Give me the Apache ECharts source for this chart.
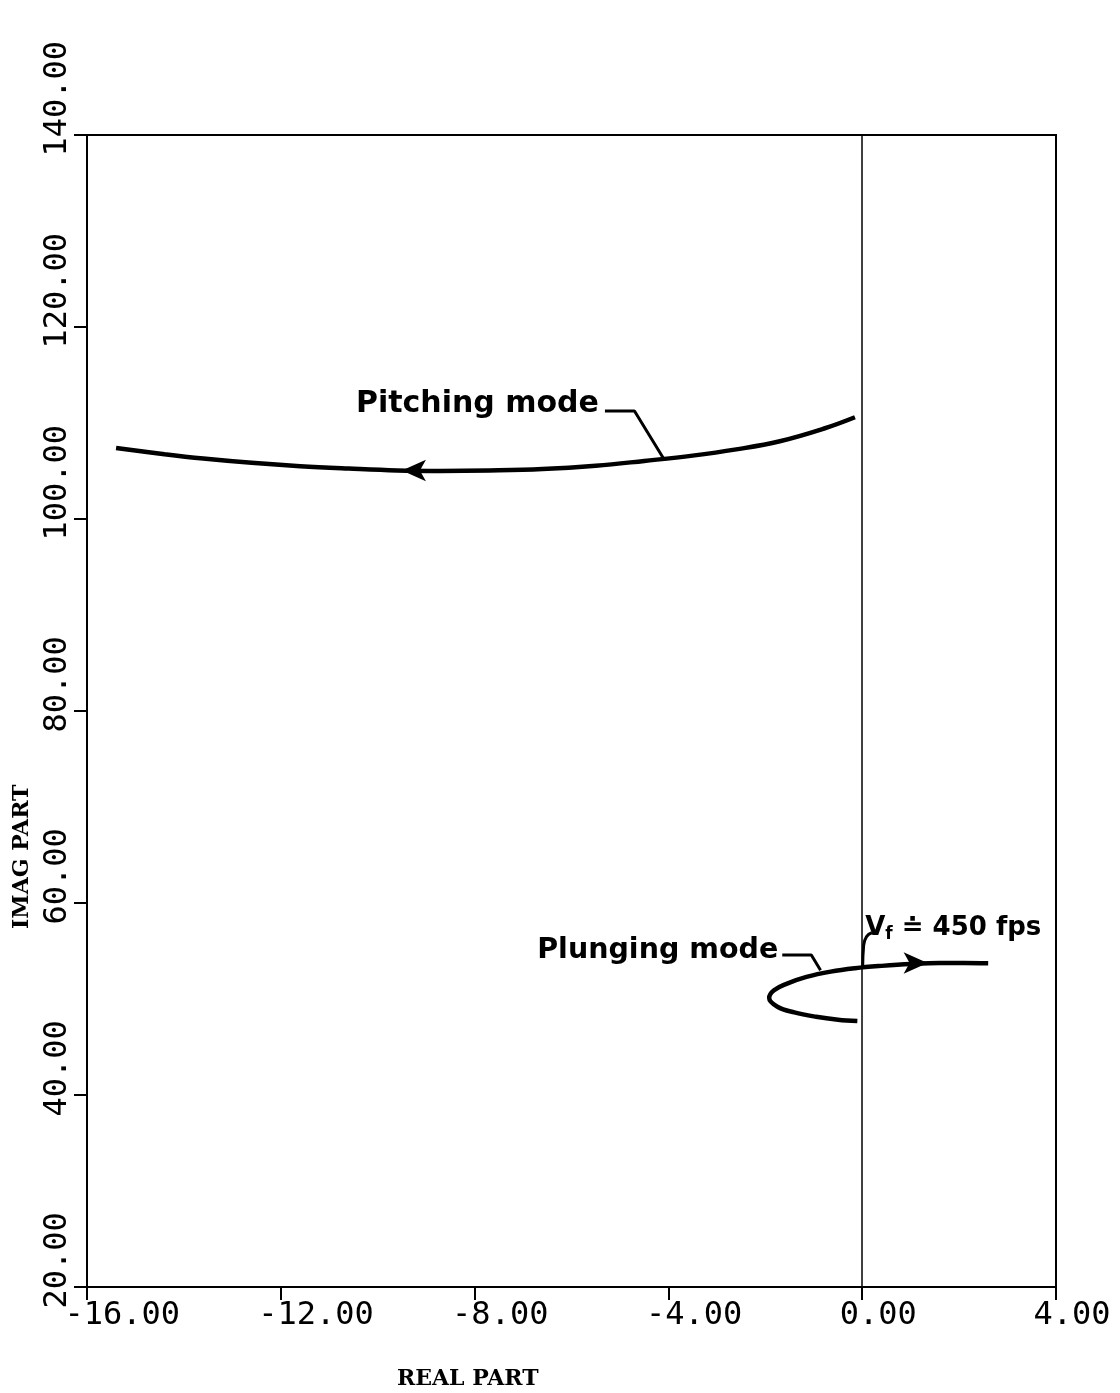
<!DOCTYPE html>
<html><head><meta charset="utf-8">
<script src="https://cdn.jsdelivr.net/npm/echarts@6/dist/echarts.min.js"></script>
<style>html,body{margin:0;padding:0;background:#fff}#c{width:1120px;height:1393px}</style>
</head><body><div id="c"></div>
<script>
// ---- data ----
const pitchingReal = [-0.15, -0.8, -1.7, -2.6, -3.5, -4.5, -5.5, -6.6, -7.7, -8.7, -9.6, -10.6, -11.6, -12.6, -13.6, -14.4, -15.4];
const pitchingImag = [110.6, 109.4, 108.1, 107.25, 106.6, 106.05, 105.55, 105.2, 105.05, 105.0, 105.05, 105.25, 105.5, 105.85, 106.3, 106.75, 107.4];
const plungingReal = [-0.1, -0.5, -0.95, -1.4, -1.75, -1.92, -1.82, -1.55, -1.15, -0.65, -0.15, 0.4, 1.0, 1.6, 2.1, 2.6];
const plungingImag = [47.7, 47.85, 48.15, 48.6, 49.2, 50.1, 50.9, 51.6, 52.3, 52.85, 53.2, 53.45, 53.65, 53.75, 53.75, 53.72];
const pitchingArrow = [-9.5, 105.05];
const plungingArrow = [1.35, 53.75];
const pitchLeaderReal = [-5.31, -4.70, -4.10];
const pitchLeaderImag = [111.25, 111.25, 106.3];
const plungeLeaderReal = [-1.65, -1.05, -0.86];
const plungeLeaderImag = [54.58, 54.58, 53.0];
const vfLeaderReal = [0.01, 0.03, 0.09, 0.2];
const vfLeaderImag = [53.35, 55.6, 56.5, 56.9];
const annotationTexts = ['Pitching mode', 'Plunging mode', '{v|V}{s|f}{t| \u2250 450 fps}'];
const annotationAnchors = [[-5.31, 112.0], [-1.65, 55.0], [0.02, 57.4]];
const xRange = [-16, 4], xStep = 4;
const yRange = [20, 140], yStep = 20;
const xName = 'REAL PART', yName = 'IMAG PART';

// ---- helpers ----
const zip = (a, b) => a.map((v, i) => [v, b[i]]);
const fs = 32, cw = 0.602 * fs;
const mono = 'DejaVu Sans Mono';
function richFor(offset) {
  const r = {};
  for (let n = 3; n <= 7; n++) r['L' + n] = {fontFamily: mono, fontSize: fs, color: '#000', padding: [0, 0, 0, Math.max(0, n * cw - offset)]};
  return r;
}
const fmt = v => { const s = v.toFixed(2); return '{L' + s.length + '|' + s + '}'; };

const chart = echarts.init(document.getElementById('c'), null, {renderer: 'canvas'});
const black = '#000';
const lineW = 4.5;
const annFont = {fontFamily: 'DejaVu Sans', fontWeight: 'bold', fontSize: 30, color: black, opacity: 1, textBorderWidth: 0};
const nameFont = {fontFamily: 'DejaVu Serif', fontWeight: 'bold', fontSize: 22, fill: black};

chart.setOption({
  animation: false,
  backgroundColor: '#fff',
  grid: {left: 87, top: 135, right: 64, bottom: 106, show: true, borderColor: black, borderWidth: 2, backgroundColor: 'transparent'},
  xAxis: {
    type: 'value', min: xRange[0], max: xRange[1], interval: xStep,
    axisLine: {show: true, onZero: false, lineStyle: {color: black, width: 2}},
    axisTick: {show: true, length: 13, lineStyle: {color: black, width: 2}},
    splitLine: {show: false},
    axisLabel: {formatter: fmt, rich: richFor(45), align: 'center', verticalAlign: 'top', margin: 13, color: black}
  },
  yAxis: {
    type: 'value', min: yRange[0], max: yRange[1], interval: yStep,
    axisLine: {show: true, onZero: false, lineStyle: {color: black, width: 2}},
    axisTick: {show: true, length: 13, lineStyle: {color: black, width: 2}},
    splitLine: {show: false},
    axisLabel: {formatter: fmt, rich: richFor(43), rotate: 90, align: 'center', verticalAlign: 'bottom', margin: 13, color: black}
  },
  graphic: [
    {type: 'text', left: 397, top: 1368, style: {text: xName, ...nameFont}},
    {type: 'text', x: 11, y: 929, rotation: Math.PI / 2, style: {text: yName, ...nameFont}}
  ],
  series: [
    {
      type: 'line', name: 'Pitching mode', data: zip(pitchingReal, pitchingImag), smooth: 0.4,
      symbol: 'none', lineStyle: {color: black, width: lineW}, z: 3,
      markLine: {silent: true, symbol: ['none', 'none'], label: {show: false},
        lineStyle: {color: black, width: 1.5, type: 'solid', opacity: 1}, data: [{xAxis: 0}]}
    },
    {
      type: 'line', name: 'Plunging mode', data: zip(plungingReal, plungingImag), smooth: 0.4,
      symbol: 'none', lineStyle: {color: black, width: lineW}, z: 3
    },
    {type: 'line', data: zip(pitchLeaderReal, pitchLeaderImag), symbol: 'none', lineStyle: {color: black, width: 3}, z: 3},
    {type: 'line', data: zip(plungeLeaderReal, plungeLeaderImag), symbol: 'none', lineStyle: {color: black, width: 3}, z: 3},
    {type: 'line', data: zip(vfLeaderReal, vfLeaderImag), symbol: 'none', smooth: 0.5, lineStyle: {color: black, width: 3}, z: 3},
    {
      type: 'scatter', symbol: 'arrow', symbolSize: [16, 24], z: 4,
      itemStyle: {color: black, opacity: 1},
      data: [
        {value: pitchingArrow, symbolRotate: 90},
        {value: plungingArrow, symbolRotate: -90}
      ]
    },
    {
      type: 'scatter', symbolSize: 0, z: 5, silent: true,
      itemStyle: {color: black, opacity: 1},
      data: [
        {value: annotationAnchors[0], label: {show: true, position: 'left', distance: 6, formatter: annotationTexts[0], ...annFont}},
        {value: annotationAnchors[1], label: {show: true, position: 'left', distance: 4, formatter: annotationTexts[1], ...annFont, fontSize: 28.5}},
        {value: annotationAnchors[2], label: {show: true, position: 'right', distance: 2, formatter: annotationTexts[2], opacity: 1,
          rich: {
            v: {fontFamily: 'DejaVu Sans', fontWeight: 'bold', fontSize: 26, color: black},
            s: {fontFamily: 'DejaVu Sans', fontWeight: 'bold', fontSize: 17, color: black, verticalAlign: 'bottom', padding: [14, 0, 0, 0]},
            t: {fontFamily: 'DejaVu Sans', fontWeight: 'bold', fontSize: 26, color: black}
          }}}
      ]
    }
  ]
});
</script>
</body></html>
